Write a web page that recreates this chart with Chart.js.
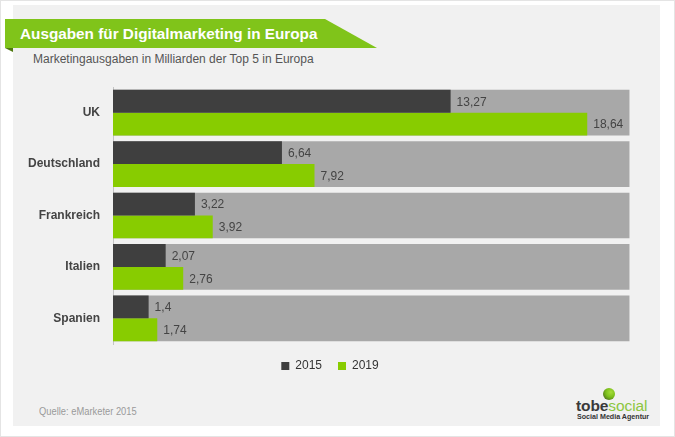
<!DOCTYPE html>
<html>
<head>
<meta charset="utf-8">
<script src="https://cdn.jsdelivr.net/npm/chart.js@4.4.0/dist/chart.umd.min.js"></script>
<style>
  html, body { margin:0; padding:0; }
  body { width:675px; height:437px; position:relative; background:#fff; overflow:hidden;
         font-family:"Liberation Sans", Arial, sans-serif; }
  #frame { position:absolute; left:0; top:0; width:673px; height:435px; border:1px solid #e4e4e4; }
  #panel { position:absolute; left:13px; top:5px; width:647px; height:421px; background:#f1f1f1; }
  #banner { position:absolute; left:5px; top:19px; width:372px; height:29px; background:#80c41a;
            clip-path:polygon(0 0, 320px 0, 372px 100%, 0 100%); }
  #bannerText { position:absolute; left:20px; top:19px; height:29px; line-height:29px; color:#fff;
                font-weight:bold; font-size:15.3px; white-space:nowrap; }
  #fold { position:absolute; left:5px; top:48px; width:8px; height:4px; background:#4f7a10;
          clip-path:polygon(0 0, 100% 0, 100% 100%); }
  #subtitle { position:absolute; left:33px; top:52px; font-size:12px; color:#555; white-space:nowrap; }
  #source { position:absolute; left:39px; top:405px; font-size:11px; color:#9a9a9a; white-space:nowrap;
            transform:scaleX(0.85); transform-origin:0 0; }
  #globe { position:absolute; left:603px; top:388px; width:12px; height:12px; border-radius:50%;
           background:radial-gradient(circle at 65% 35%, #a6dc3a 0%, #7bbf1a 45%, #3a4a20 100%); }
  #logo { position:absolute; left:576px; top:397px; font-size:15.5px; font-weight:bold; white-space:nowrap;
          letter-spacing:-0.1px; }
  #logo .a { color:#3a3a3a; } #logo .b { color:#8cc63f; font-weight:normal; }
  #logoSub { position:absolute; left:577px; top:412px; font-size:8px; font-weight:bold; color:#333; white-space:nowrap;
             transform:scaleX(0.89); transform-origin:0 0; }
  #c { position:absolute; left:0; top:0; }
</style>
</head>
<body>
<div id="frame"></div>
<div id="panel"></div>
<div id="banner"></div>
<div id="fold"></div>
<div id="bannerText">Ausgaben für Digitalmarketing in Europa</div>
<div id="subtitle">Marketingausgaben in Milliarden der Top 5 in Europa</div>
<div id="source">Quelle: eMarketer 2015</div>
<div id="globe"></div>
<div id="logo"><span class="a">tobe</span><span class="b">social</span></div>
<div id="logoSub">Social Media Agentur</div>
<canvas id="c" width="675" height="437"></canvas>
<script>
const categories = ["UK", "Deutschland", "Frankreich", "Italien", "Spanien"];
const seriesNames = ["2015", "2019"];
const values2015 = [13.27, 6.64, 3.22, 2.07, 1.4];
const values2019 = [18.64, 7.92, 3.92, 2.76, 1.74];
const trackValues = [20.3, 20.3, 20.3, 20.3, 20.3];

Chart.defaults.font.family = '"Liberation Sans", Arial, sans-serif';

const fmt = v => String(v).replace('.', ',');

const valueLabels = {
  id: 'valueLabels',
  afterDatasetsDraw(chart) {
    const ctx = chart.ctx;
    ctx.save();
    ctx.font = '12px "Liberation Sans", Arial, sans-serif';
    ctx.fillStyle = '#444';
    ctx.textBaseline = 'middle';
    ctx.textAlign = 'left';
    [0, 1].forEach(di => {
      const meta = chart.getDatasetMeta(di);
      meta.data.forEach((bar, i) => {
        ctx.fillText(fmt(chart.data.datasets[di].data[i]), bar.x + 6, bar.y + 1);
      });
    });
    ctx.restore();
  }
};

new Chart(document.getElementById('c'), {
  type: 'bar',
  data: {
    labels: categories,
    datasets: [
      { label: seriesNames[0], data: values2015, backgroundColor: '#3f3f3f', borderWidth: 0,
        categoryPercentage: 0.89, barPercentage: 1, order: 0 },
      { label: seriesNames[1], data: values2019, backgroundColor: '#88cc00', borderWidth: 0,
        categoryPercentage: 0.89, barPercentage: 1, order: 0 },
      { label: 'track', data: trackValues, backgroundColor: '#a8a8a8', borderWidth: 0,
        grouped: false, categoryPercentage: 0.89, barPercentage: 1, order: 5 }
    ]
  },
  options: {
    indexAxis: 'y',
    responsive: false,
    animation: false,
    layout: { padding: { top: 87, left: 0, right: 15, bottom: 55 } },
    scales: {
      x: { display: false, min: 0, max: 21.5 },
      y: {
        grid: { display: false, drawTicks: false },
        border: { display: true, color: '#c4c4c4', width: 1 },
        ticks: { color: '#444', padding: 13, font: { size: 12, weight: 'bold' } },
        afterFit(scale) { scale.width = 113; }
      }
    },
    plugins: {
      legend: {
        position: 'bottom',
        labels: {
          boxWidth: 8, boxHeight: 8, padding: 16, color: '#333',
          font: { size: 12 },
          filter: item => item.datasetIndex !== 2
        }
      },
      tooltip: { enabled: false }
    }
  },
  plugins: [valueLabels]
});
</script>
</body>
</html>
